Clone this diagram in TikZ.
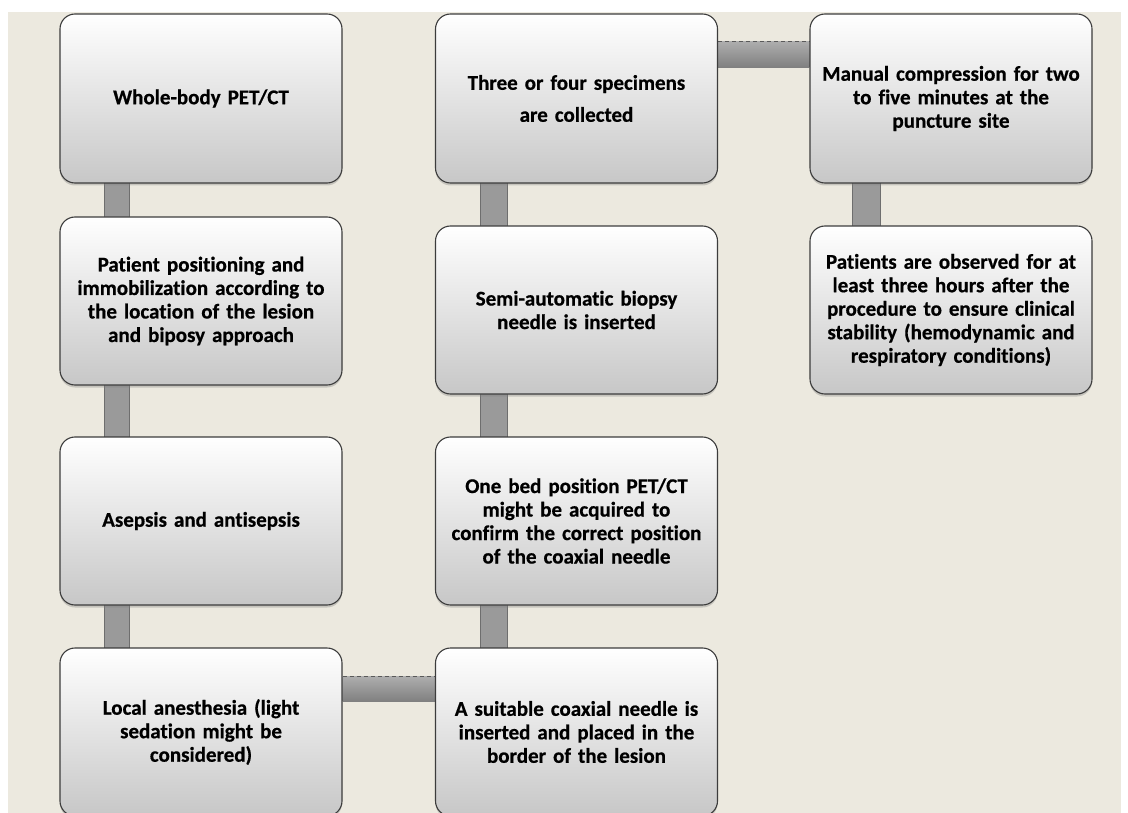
\documentclass[tikz,border=0pt]{standalone}
\usepackage{fontspec}
\setmainfont{Carlito}[Ligatures={NoCommon}, BoldFeatures={FakeBold=0.6}]
\usetikzlibrary{shadows}
\definecolor{beige}{HTML}{ECE9DF}
\definecolor{boxline}{HTML}{3C3C3C}
\definecolor{barfill}{HTML}{9A9A9A}
\definecolor{barline}{HTML}{6E6E6E}
\pgfdeclarelayer{back}
\pgfdeclarelayer{mid}
\pgfsetlayers{back,mid,main}
\tikzset{
  stepbox/.style={draw=boxline, line width=1.1pt, rounded corners=15pt,
    top color=white, middle color=white, bottom color=black!22,
    minimum width=282pt, text width=270pt, align=center, inner sep=0pt,
    font=\bfseries\fontsize{21}{23.5}\selectfont,
    drop shadow={shadow xshift=0pt, shadow yshift=-2.5pt, opacity=0.35}},
  vbar/.style={fill=barfill, draw=barline, line width=0.8pt},
  hbar/.style={top color=black!32, bottom color=black!50, draw=none},
  hbartop/.style={draw=black!65, dashed, dash pattern=on 4pt off 3pt, line width=0.9pt},
}
\begin{document}
\begin{tikzpicture}[x=1pt,y=-1pt]
\useasboundingbox (0,0) rectangle (1128,813);
\clip (0,0) rectangle (1128,813);
\begin{pgfonlayer}{back}
\fill[white] (0,0) rectangle (1128,813);
\fill[beige] (8,12) rectangle (1121,813);
\end{pgfonlayer}
% column 1
\node[stepbox, minimum height=169pt] (a1) at (201,98.5) {Whole-body PET/CT};
\node[stepbox, minimum height=168pt] (a2) at (201,301) {Patient positioning and\\immobilization according to\\the location of the lesion\\and biposy approach};
\node[stepbox, minimum height=168pt] (a3) at (201,521) {Asepsis and antisepsis};
\node[stepbox, minimum height=168pt] (a4) at (201,732) {Local anesthesia (light\\sedation might be\\considered)};
% column 2
\node[stepbox, minimum height=168pt] (b4) at (576.5,732) {A suitable coaxial needle is\\inserted and placed in the\\border of the lesion};
\node[stepbox, minimum height=168pt] (b3) at (576.5,521) {One bed position PET/CT\\might be acquired to\\confirm the correct position\\of the coaxial needle};
\node[stepbox, minimum height=168pt] (b2) at (576.5,310) {Semi-automatic biopsy\\needle is inserted};
\node[stepbox, minimum height=169pt, font=\bfseries\fontsize{21}{32}\selectfont] (b1) at (576.5,98.5) {Three or four specimens\\are collected};
% column 3
\node[stepbox, minimum height=169pt] (c1) at (951,98.5) {Manual compression for two\\to five minutes at the\\puncture site};
\node[stepbox, minimum height=168pt] (c2) at (951,310) {Patients are observed for at\\least three hours after the\\procedure to ensure clinical\\stability (hemodynamic and\\respiratory conditions)};
% connectors
\begin{pgfonlayer}{mid}
\path[vbar] ([xshift=45pt,yshift=2pt]a1.south west) rectangle ([xshift=70pt,yshift=-2pt]a2.north west);
\path[vbar] ([xshift=45pt,yshift=2pt]a2.south west) rectangle ([xshift=70pt,yshift=-2pt]a3.north west);
\path[vbar] ([xshift=45pt,yshift=2pt]a3.south west) rectangle ([xshift=70pt,yshift=-2pt]a4.north west);
\path[hbar] ([yshift=-29pt]a4.north east) rectangle ([yshift=-54pt]b4.north west);
\draw[hbartop] ([yshift=-29pt]a4.north east) -- ([yshift=-29pt]b4.north west);
\path[vbar] ([xshift=45pt,yshift=2pt]b3.south west) rectangle ([xshift=72pt,yshift=-2pt]b4.north west);
\path[vbar] ([xshift=45pt,yshift=2pt]b2.south west) rectangle ([xshift=72pt,yshift=-2pt]b3.north west);
\path[vbar] ([xshift=45pt,yshift=2pt]b1.south west) rectangle ([xshift=72pt,yshift=-2pt]b2.north west);
\path[hbar] ([yshift=-28pt]b1.north east) rectangle ([yshift=-54pt]c1.north west);
\draw[hbartop] ([yshift=-28pt]b1.north east) -- ([yshift=-28pt]c1.north west);
\path[vbar] ([xshift=43pt,yshift=2pt]c1.south west) rectangle ([xshift=71pt,yshift=-2pt]c2.north west);
\end{pgfonlayer}
\end{tikzpicture}
\end{document}
